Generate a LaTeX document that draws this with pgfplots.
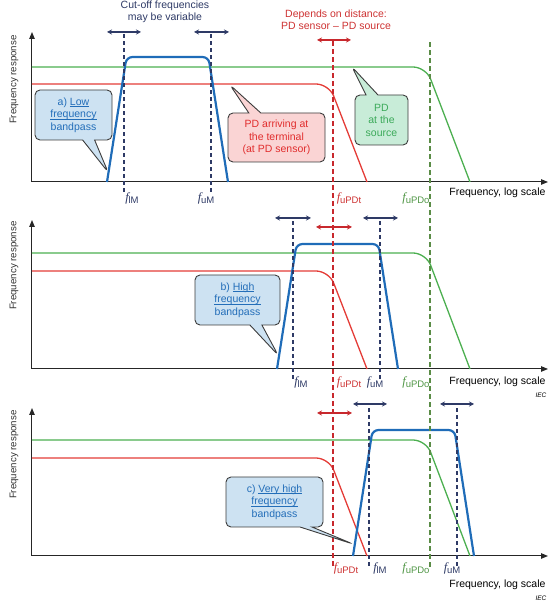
\documentclass[border=0pt]{standalone}
\usepackage{fontspec}
\setmainfont{Liberation Sans}
\newfontfamily\serifit{Liberation Serif}
\usepackage{pgfplots}
\pgfplotsset{compat=1.18}
\usetikzlibrary{shapes.callouts,arrows.meta}

\definecolor{navy}{RGB}{46,58,102}
\definecolor{bline}{RGB}{31,108,184}
\definecolor{gline}{RGB}{76,175,80}
\definecolor{rline}{RGB}{228,60,55}
\definecolor{rdash}{RGB}{200,40,45}
\definecolor{gdash}{RGB}{90,140,70}
\definecolor{rtext}{RGB}{205,50,50}
\definecolor{gtext}{RGB}{80,150,70}
\definecolor{cbfill}{RGB}{205,226,242}
\definecolor{cbtext}{RGB}{35,110,185}
\definecolor{crfill}{RGB}{250,212,212}
\definecolor{crtext}{RGB}{225,45,45}
\definecolor{cgfill}{RGB}{200,236,216}
\definecolor{cgtext}{RGB}{60,170,90}
\definecolor{cborder}{RGB}{60,60,60}

\newcommand{\fsub}[1]{{\serifit\itshape\fontsize{12.5}{12}\selectfont f}\kern-0.2pt\raisebox{-0.45ex}{\fontsize{9.5}{9.5}\selectfont #1}}
\newcommand{\txt}{\fontsize{10.5}{12.5}\selectfont}
\newcommand{\ytxt}{\fontsize{9.7}{12}\selectfont}
\newcommand{\ul}[1]{\setbox0\hbox{#1}\rlap{\rule[-1.6pt]{\wd0}{0.6pt}}\box0}

\pgfplotsset{
  panel/.style={
    x=1pt, y=1pt, xmin=0, xmax=516, ymin=0,
    axis lines=left, ticks=none, clip=false, anchor=south west,
    axis line style={line width=1pt, black!85, -{Triangle[length=7pt,width=5.5pt]}},
  },
  gcurve/.style={gline, line width=1.3pt, rounded corners=13pt, no marks},
  rcurve/.style={rline, line width=1.3pt, rounded corners=13pt, no marks},
  bcurve/.style={bline, line width=2.2pt, rounded corners=6pt, no marks},
  ndash/.style={navy, line width=1.2pt, dash pattern=on 4pt off 3pt, no marks},
  narr/.style={navy, line width=1.3pt, {Stealth[length=5pt,width=5pt]}-{Stealth[length=5pt,width=5pt]}, no marks},
  rarr/.style={rdash, line width=1.3pt, {Stealth[length=5pt,width=5pt]}-{Stealth[length=5pt,width=5pt]}, no marks},
}
\tikzset{
  ylab/.style={rotate=90, anchor=east, black!80, font=\ytxt},
  co/.style={rectangle callout, draw=cborder, line width=0.9pt, rounded corners=5pt,
    inner sep=1pt, align=center, font=\txt, callout pointer width=12pt},
}

\begin{document}
\begin{tikzpicture}
\useasboundingbox (0,0) rectangle (558pt,604pt);

% ---------------- panel a ----------------
\begin{axis}[panel, at={(32pt,422pt)}, ymax=150]
\addplot[gcurve] coordinates {(0,115) (394,115) (438,0)};
\addplot[rcurve] coordinates {(0,98) (297,98) (335,0)};
\addplot[bcurve] coordinates {(75,0) (94.5,125) (176.5,125) (196,0)};
\addplot[ndash] coordinates {(92,-10) (92,150)};
\addplot[ndash] coordinates {(179,-10) (179,150)};
\addplot[narr] coordinates {(75,150) (109,150)};
\addplot[narr] coordinates {(162,150) (197,150)};
\addplot[rarr] coordinates {(285,142) (319,142)};
\node[navy, font=\txt, align=center] at (axis cs:133,170) {Cut-off frequencies\\may be variable};
\node[rtext, font=\txt, align=center] at (axis cs:304,162) {Depends on distance:\\PD sensor -- PD source};
\node[ylab] at (axis cs:-18,150) {Frequency response};
\node[anchor=east, black, font=\txt] at (axis cs:517,-11) {Frequency, log scale};
\node[navy] at (axis cs:100,-16) {\fsub{lM}};
\node[navy] at (axis cs:174,-16) {\fsub{uM}};
\node[rtext] at (axis cs:317,-16) {\fsub{uPDt}};
\node[gtext] at (axis cs:384,-16) {\fsub{uPDo}};
\coordinate (ta1) at (axis cs:76,10);
\coordinate (ca1) at (axis cs:41.5,67);
\coordinate (ta2) at (axis cs:198,97);
\coordinate (ca2) at (axis cs:244.5,44.5);
\coordinate (ta3) at (axis cs:320,115);
\coordinate (ca3) at (axis cs:349.5,62);
\end{axis}
\node[co, fill=cbfill, text=cbtext, minimum width=77pt, minimum height=50pt, callout absolute pointer={(ta1)}] at (ca1) {a) \ul{Low}\\\ul{frequency}\\bandpass};
\node[co, fill=crfill, text=crtext, minimum width=97pt, minimum height=49pt, callout absolute pointer={(ta2)}] at (ca2) {PD arriving at\\the terminal\\(at PD sensor)};
\node[co, fill=cgfill, text=cgtext, minimum width=53pt, minimum height=50pt, callout absolute pointer={(ta3)}] at (ca3) {PD\\at the\\source};

% ---------------- panel b ----------------
\begin{axis}[panel, at={(32pt,235pt)}, ymax=149]
\addplot[gcurve] coordinates {(0,116) (394,116) (438,0)};
\addplot[rcurve] coordinates {(0,98) (297,98) (335,0)};
\addplot[bcurve] coordinates {(245,0) (264.5,125) (346.5,125) (366,0)};
\addplot[ndash] coordinates {(261,-10) (261,151)};
\addplot[ndash] coordinates {(348,-10) (348,151)};
\addplot[narr] coordinates {(243,151) (279,151)};
\addplot[narr] coordinates {(331,151) (366,151)};
\addplot[rarr] coordinates {(284,142) (320,142)};
\node[ylab] at (axis cs:-18,151) {Frequency response};
\node[anchor=east, black, font=\txt] at (axis cs:517,-13) {Frequency, log scale};
\node[navy] at (axis cs:269,-13) {\fsub{lM}};
\node[rtext] at (axis cs:317,-13) {\fsub{uPDt}};
\node[navy] at (axis cs:343,-13) {\fsub{uM}};
\node[gtext] at (axis cs:384,-13) {\fsub{uPDo}};
\node[black, font=\itshape\fontsize{6.5}{7}\selectfont] at (axis cs:509,-26) {IEC};
\coordinate (tb) at (axis cs:246,14);
\coordinate (cb) at (axis cs:205.5,69);
\end{axis}
\node[co, fill=cbfill, text=cbtext, minimum width=85pt, minimum height=50pt, callout absolute pointer={(tb)}] at (cb) {b) \ul{High}\\\ul{frequency}\\bandpass};

% ---------------- panel c ----------------
\begin{axis}[panel, at={(32pt,48pt)}, ymax=148]
\addplot[gcurve] coordinates {(0,116) (394,116) (438,0)};
\addplot[rcurve] coordinates {(0,98) (297,98) (335,0)};
\addplot[bcurve] coordinates {(321,0) (340.5,126) (422.5,126) (442,0)};
\addplot[ndash] coordinates {(337,-10) (337,152)};
\addplot[ndash] coordinates {(425,-10) (425,152)};
\addplot[narr] coordinates {(321,152) (355,152)};
\addplot[narr] coordinates {(408,152) (442,152)};
\addplot[rarr] coordinates {(285,143) (320,143)};
% dashed cut-off lines of the PD signals, through all three panels
\addplot[rdash, line width=1.3pt, dash pattern=on 5pt off 3pt, no marks] coordinates {(301,-10) (301,516)};
\addplot[gdash, line width=1.2pt, dash pattern=on 5pt off 3pt, no marks] coordinates {(398,-11) (398,516)};
\node[ylab] at (axis cs:-18,149) {Frequency response};
\node[anchor=east, black, font=\txt] at (axis cs:517,-29) {Frequency, log scale};
\node[rtext] at (axis cs:314,-12) {\fsub{uPDt}};
\node[navy] at (axis cs:348,-12) {\fsub{lM}};
\node[gtext] at (axis cs:384,-12) {\fsub{uPDo}};
\node[navy] at (axis cs:420,-12) {\fsub{uM}};
\node[black, font=\itshape\fontsize{6.5}{7}\selectfont] at (axis cs:509,-42) {IEC};
\coordinate (tc) at (axis cs:321,12);
\coordinate (cc) at (axis cs:242.5,54);
\end{axis}
\node[co, fill=cbfill, text=cbtext, minimum width=97pt, minimum height=50pt, callout absolute pointer={(tc)}] at (cc) {c) \ul{Very high}\\\ul{frequency}\\bandpass};
\end{tikzpicture}
\end{document}
